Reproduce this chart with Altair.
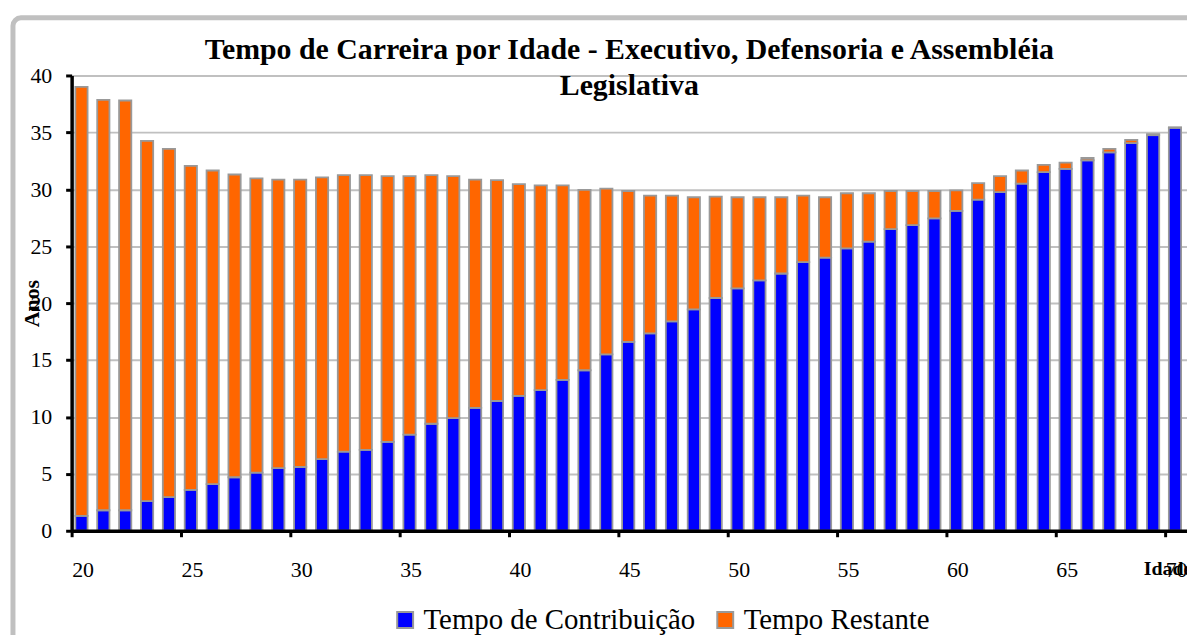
import altair as alt
import pandas as pd

idade = list(range(20, 71))
contribuicao = [
    1.3, 1.8, 1.8, 2.6, 2.95, 3.6, 4.1, 4.7, 5.1, 5.5,
    5.6, 6.3, 6.95, 7.1, 7.8, 8.45, 9.4, 9.9, 10.8, 11.4,
    11.85, 12.35, 13.25, 14.1, 15.5, 16.6, 17.35, 18.4, 19.45, 20.45,
    21.3, 22.0, 22.6, 23.6, 24.0, 24.8, 25.4, 26.5, 26.85, 27.45,
    28.1, 29.1, 29.75, 30.5, 31.5, 31.8, 32.55, 33.25, 34.05, 34.75,
    35.4,
]
restante = [
    37.7, 36.05, 36.0, 31.65, 30.6, 28.45, 27.55, 26.6, 25.85, 25.35,
    25.25, 24.75, 24.3, 24.15, 23.35, 22.7, 21.85, 21.25, 20.05, 19.4,
    18.6, 18.0, 17.1, 15.85, 14.55, 13.25, 12.1, 11.05, 9.85, 8.9,
    8.0, 7.3, 6.7, 5.85, 5.3, 4.85, 4.25, 3.35, 3.0, 2.4,
    1.8, 1.45, 1.4, 1.15, 0.65, 0.55, 0.2, 0.3, 0.3, 0.1,
    0.05,
]
series_names = ["Tempo de Contribuição", "Tempo Restante"]
series_colors = ["#0000FF", "#FF6600"]
x_ticks = [20, 25, 30, 35, 40, 45, 50, 55, 60, 65, 70]
y_ticks = [0, 5, 10, 15, 20, 25, 30, 35, 40]
title_lines = ["Tempo de Carreira por Idade - Executivo, Defensoria  e Assembléia", "Legislativa"]

rows = []
for i, a in enumerate(idade):
    rows.append({"idade": a, "serie": series_names[0], "anos": contribuicao[i], "ordem": 0})
    rows.append({"idade": a, "serie": series_names[1], "anos": restante[i], "ordem": 1})
df = pd.DataFrame(rows)

FONT = "Liberation Serif, Times New Roman, serif"

bars = (
    alt.Chart(df)
    .transform_stack(
        stack="anos", as_=["y0", "y1"], groupby=["idade"],
        sort=[alt.SortField("ordem", order="ascending")],
    )
    .transform_calculate(x0="datum.idade + 0.17", x1="datum.idade + 0.73")
    .mark_bar(stroke="#999999", strokeWidth=1.8)
    .encode(
        x=alt.X(
            "x0:Q",
            scale=alt.Scale(domain=[20, 71], nice=False, zero=False),
            axis=alt.Axis(
                values=x_ticks, format="d", grid=False, labelFlush=False, labelOverlap=False,
                labelFont=FONT, labelFontSize=22, labelColor="black", labelOffset=11, labelPadding=23,
                tickColor="black", tickWidth=3, tickSize=6,
                domainColor="black", domainWidth=3.5, zindex=1,
                title="Idade", titleFont=FONT, titleColor="black", titleFontSize=20, titleFontWeight="bold",
                titleX=1078, titleY=44, titleAlign="left", titleBaseline="alphabetic",
            ),
        ),
        x2="x1:Q",
        y=alt.Y(
            "y0:Q",
            scale=alt.Scale(domain=[0, 40], nice=False),
            axis=alt.Axis(
                values=y_ticks, grid=True, gridColor="#C0C0C0", gridWidth=2,
                labelFont=FONT, labelFontSize=22, labelColor="black", labelPadding=14,
                tickColor="black", tickWidth=3, tickSize=6,
                domainColor="black", domainWidth=3.5,
                title="Anos", titleFont=FONT, titleColor="black", titleFontSize=22, titleFontWeight="bold",
                titleAngle=270, titleX=-40, titleY=229, titleAlign="center", titleBaseline="middle",
            ),
        ),
        y2="y1:Q",
        color=alt.Color(
            "serie:N",
            scale=alt.Scale(domain=series_names, range=series_colors),
            legend=alt.Legend(
                title=None, orient="none", legendX=321, legendY=533, direction="horizontal",
                symbolType="square", symbolSize=256, symbolStrokeColor="#999999", symbolStrokeWidth=2,
                labelFont=FONT, labelFontSize=29, labelColor="black", labelOffset=4,
                labelLimit=400, columnPadding=15,
            ),
        ),
    )
)

frame = (
    alt.Chart(pd.DataFrame({"k": [0]}))
    .mark_rect(filled=False, stroke="#C0C0C0", strokeWidth=5, cornerRadius=8)
    .encode(x=alt.value(-59), x2=alt.value(1140), y=alt.value(-58), y2=alt.value(600))
)

chart = (
    alt.layer(frame, bars)
    .properties(
        width=1122, height=458,
        autosize=alt.AutoSizeParams(type="none"),
        padding={"left": 64, "top": 66, "right": 0, "bottom": 103},
        title=alt.Title(
            title_lines, font=FONT, fontSize=30, fontWeight="bold", color="black",
            anchor="middle", lineHeight=36, baseline="alphabetic", offset=0, dy=110,
        ),
    )
    .configure_view(stroke="#C0C0C0", strokeWidth=1.5)
    .configure_axis(labelFont=FONT, titleFont=FONT)
    .configure(background="white")
)

chart.save("out.html", embed_options={"renderer": "svg", "actions": False})
